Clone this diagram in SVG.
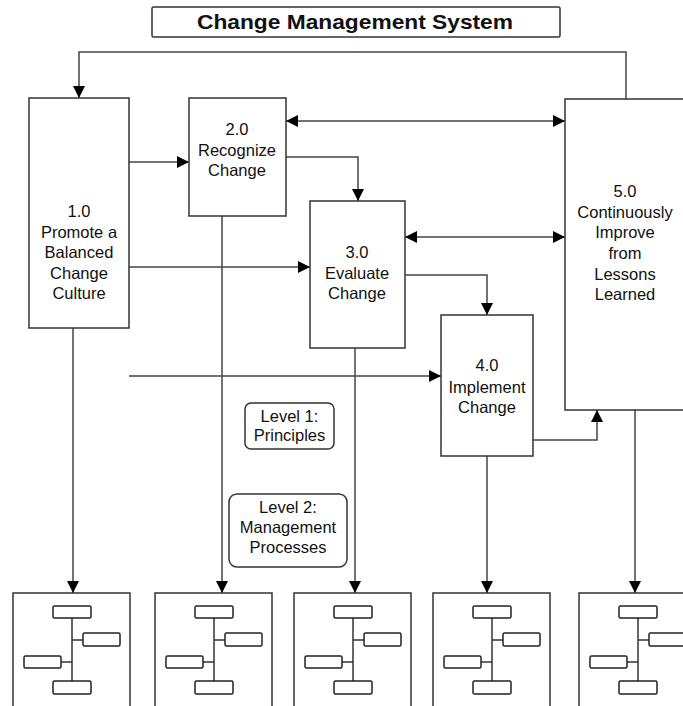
<svg xmlns="http://www.w3.org/2000/svg" width="683" height="706" viewBox="0 0 683 706">
<style>
.bg{fill:#fff}
.box{fill:#fff;stroke:#333;stroke-width:1.5}
.lvl{fill:#fff;stroke:#333;stroke-width:1.5}
.t{font-family:"Liberation Sans",Arial,sans-serif;font-size:16.5px;fill:#111;text-anchor:middle}
.title{font-family:"Liberation Sans",Arial,sans-serif;font-size:21px;font-weight:bold;fill:#111;text-anchor:middle}
.c{fill:none;stroke:#444;stroke-width:1.5}
.m{fill:#fff;stroke:#222;stroke-width:1.5}
.ml{fill:none;stroke:#333;stroke-width:1.5}
</style>
<defs>
<marker id="ah" markerUnits="userSpaceOnUse" markerWidth="12" markerHeight="12" refX="12" refY="6" orient="auto-start-reverse" viewBox="0 0 12 12">
<path d="M0,0 L12,6 L0,12 z" fill="#000"/>
</marker>
<g id="mini">
<rect class="box" x="0" y="0" width="117" height="114"/>
<line class="ml" x1="59" y1="25" x2="59" y2="88"/>
<line class="ml" x1="59" y1="47" x2="70" y2="47"/>
<line class="ml" x1="48" y1="69" x2="59" y2="69"/>
<rect class="m" x="40" y="13" width="38" height="12" rx="1.5"/>
<rect class="m" x="70" y="40" width="37" height="13" rx="1.5"/>
<rect class="m" x="11" y="63" width="37" height="12" rx="1.5"/>
<rect class="m" x="40" y="88" width="38" height="13" rx="1.5"/>
</g>
</defs>
<rect class="bg" x="0" y="0" width="683" height="706"/>

<g id="title">
<rect class="box" x="152" y="7" width="408" height="30" rx="1.5"/>
<text class="title" x="355" y="29" textLength="316" lengthAdjust="spacingAndGlyphs">Change Management System</text>
</g>

<g id="connectors">
<path class="c" d="M626,99 V52 H79 V98" marker-end="url(#ah)"/>
<line class="c" x1="129" y1="162" x2="189" y2="162" marker-end="url(#ah)"/>
<path class="c" d="M286,157 H358 V201" marker-end="url(#ah)"/>
<line class="c" x1="286" y1="121" x2="565" y2="121" marker-start="url(#ah)" marker-end="url(#ah)"/>
<line class="c" x1="129" y1="267" x2="310" y2="267" marker-end="url(#ah)"/>
<line class="c" x1="405" y1="237" x2="565" y2="237" marker-start="url(#ah)" marker-end="url(#ah)"/>
<path class="c" d="M405,275 H487 V315" marker-end="url(#ah)"/>
<line class="c" x1="129" y1="376" x2="441" y2="376" marker-end="url(#ah)"/>
<path class="c" d="M533,440 H597 V410" marker-end="url(#ah)"/>
<line class="c" x1="73" y1="328" x2="73" y2="593" marker-end="url(#ah)"/>
<line class="c" x1="222" y1="216" x2="222" y2="593" marker-end="url(#ah)"/>
<line class="c" x1="355" y1="348" x2="355" y2="593" marker-end="url(#ah)"/>
<line class="c" x1="487" y1="456" x2="487" y2="593" marker-end="url(#ah)"/>
<line class="c" x1="635" y1="410" x2="635" y2="593" marker-end="url(#ah)"/>
</g>

<g id="n1">
<rect class="box" x="29" y="98" width="100" height="230"/>
<text class="t" x="79" y="217">1.0</text>
<text class="t" x="79" y="238">Promote a</text>
<text class="t" x="79" y="258">Balanced</text>
<text class="t" x="79" y="279">Change</text>
<text class="t" x="79" y="299">Culture</text>
</g>

<g id="n2">
<rect class="box" x="189" y="98" width="97" height="118"/>
<text class="t" x="237" y="135">2.0</text>
<text class="t" x="237" y="155.5">Recognize</text>
<text class="t" x="237" y="176">Change</text>
</g>

<g id="n3">
<rect class="box" x="310" y="201" width="95" height="147"/>
<text class="t" x="357" y="258">3.0</text>
<text class="t" x="357" y="279">Evaluate</text>
<text class="t" x="357" y="299">Change</text>
</g>

<g id="n4">
<rect class="box" x="441" y="315" width="92" height="141"/>
<text class="t" x="487" y="371">4.0</text>
<text class="t" x="487" y="392.5">Implement</text>
<text class="t" x="487" y="413">Change</text>
</g>

<g id="n5">
<rect class="box" x="565" y="99" width="130" height="311"/>
<text class="t" x="625" y="197">5.0</text>
<text class="t" x="625" y="217.5">Continuously</text>
<text class="t" x="625" y="238">Improve</text>
<text class="t" x="625" y="259">from</text>
<text class="t" x="625" y="280">Lessons</text>
<text class="t" x="625" y="300">Learned</text>
</g>

<g id="level1">
<rect class="lvl" x="245" y="403" width="89" height="46" rx="6"/>
<text class="t" x="289.5" y="422">Level 1:</text>
<text class="t" x="289.5" y="441">Principles</text>
</g>

<g id="level2">
<rect class="lvl" x="229" y="494" width="118" height="73" rx="8"/>
<text class="t" x="288" y="513">Level 2:</text>
<text class="t" x="288" y="533">Management</text>
<text class="t" x="288" y="553">Processes</text>
</g>

<g id="p1"><use href="#mini" x="13" y="593"/></g>
<g id="p2"><use href="#mini" x="155" y="593"/></g>
<g id="p3"><use href="#mini" x="294" y="593"/></g>
<g id="p4"><use href="#mini" x="433" y="593"/></g>
<g id="p5"><use href="#mini" x="579" y="593"/></g>
</svg>
